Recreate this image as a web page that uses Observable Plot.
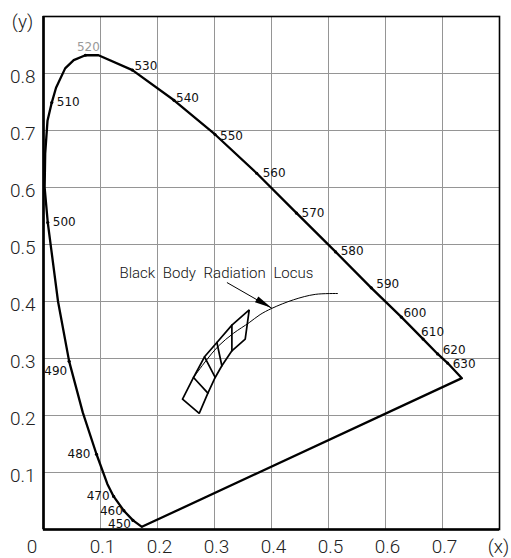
<!DOCTYPE html>
<html><head><meta charset="utf-8">
<script src="https://cdn.jsdelivr.net/npm/d3@7"></script>
<script src="https://cdn.jsdelivr.net/npm/@observablehq/plot@0.6"></script>
<style>html,body{margin:0;padding:0;background:#fff;} svg{display:block}</style>
</head><body><div id="chart"></div>
<script>
// ---- data ----
const xTicks = [0.1, 0.2, 0.3, 0.4, 0.5, 0.6, 0.7];
const yTicks = [0.1, 0.2, 0.3, 0.4, 0.5, 0.6, 0.7, 0.8];
const locusWl = [380, 450, 460, 470, 475, 480, 485, 490, 495, 500, 502, 504, 506, 510, 512, 515, 517, 520, 523, 530, 540, 550, 560, 570, 580, 590, 600, 610, 620, 630, 700];
const locusX = [0.1726, 0.157, 0.141, 0.123, 0.112, 0.093, 0.069, 0.045, 0.0255, 0.0075, 0.002, 0.003, 0.007, 0.0145, 0.022, 0.038, 0.053, 0.0735, 0.0965, 0.156, 0.229, 0.301, 0.374, 0.444, 0.5125, 0.575, 0.628, 0.666, 0.6915, 0.709, 0.734];
const locusY = [0.0047, 0.016, 0.033, 0.058, 0.080, 0.132, 0.205, 0.295, 0.400, 0.5385, 0.600, 0.660, 0.717, 0.749, 0.775, 0.809, 0.8235, 0.832, 0.832, 0.806, 0.753, 0.693, 0.625, 0.555, 0.487, 0.424, 0.3725, 0.334, 0.308, 0.292, 0.2655];
const labelWl = [450, 460, 470, 480, 490, 500, 510, 520, 530, 540, 550, 560, 570, 580, 590, 600, 610, 620, 630];
const planckX = [0.2632, 0.285, 0.307, 0.333, 0.361, 0.380, 0.4007, 0.4386, 0.4767, 0.516];
const planckY = [0.2667, 0.296, 0.322, 0.344, 0.363, 0.377, 0.3880, 0.403, 0.4125, 0.414];
const bandUpperX = [0.2439, 0.2632, 0.2825, 0.3042, 0.3305, 0.3609];
const bandUpperY = [0.2287, 0.2667, 0.3030, 0.3281, 0.3586, 0.3854];
const bandLowerX = [0.2732, 0.2884, 0.3012, 0.3129, 0.3305, 0.3539];
const bandLowerY = [0.2036, 0.2392, 0.2667, 0.2872, 0.3135, 0.3340];
const noteText = "Black Body Radiation Locus";
const noteX = 0.1333, noteY = 0.449;
const arrowFrom = [0.3218, 0.4333];
const arrowTo = [0.4007, 0.3880];

// ---- derived tables ----
const locus = locusWl.map((wl, i) => ({wl, x: locusX[i], y: locusY[i]}));
const locusClosed = [...locus, locus[0]];
const labelled = locus.filter(d => labelWl.includes(d.wl));
const planck = planckX.map((x, i) => ({x, y: planckY[i]}));
const upper = bandUpperX.map((x, i) => ({x, y: bandUpperY[i]}));
const lower = bandLowerX.map((x, i) => ({x, y: bandLowerY[i]}));
const bandLines = [];
[...upper, ...lower.slice().reverse(), upper[0]].forEach(p => bandLines.push({...p, k: "outline"}));
for (let i = 1; i < upper.length - 1; i++) {
  bandLines.push({...upper[i], k: "c" + i});
  bandLines.push({...lower[i], k: "c" + i});
}

// label placement (style, not data)
const labelStyle = {
  450: [-2, 3.5, "end"], 460: [-1, 0.5, "end"], 470: [-4, 0, "end"], 480: [-6, 0, "end"], 490: [-2, 10, "end"],
  500: [5, 0, "start"], 510: [5, 0, "start"], 520: [3, -8.5, "middle"], 530: [2, -4, "start"], 540: [2, -2, "start"],
  550: [5, 2, "start"], 560: [6, 0, "start"], 570: [5, 0, "start"], 580: [5, -1, "start"], 590: [5, -4, "start"],
  600: [2, -4, "start"], 610: [-2, -7, "start"], 620: [5, -4, "start"], 630: [5, 1, "start"]
};
const axisFont = "Roboto, 'Liberation Sans', sans-serif";
const smallFont = "'DejaVu Sans', sans-serif";

const chart = Plot.plot({
  width: 511, height: 558,
  marginLeft: 43, marginRight: 12, marginTop: 16, marginBottom: 29,
  x: {domain: [0, 0.8], axis: null},
  y: {domain: [0, 0.9], axis: null},
  style: {background: "#fff", fontFamily: axisFont},
  marks: [
    Plot.gridX(xTicks, {stroke: "#959595", strokeOpacity: 1, strokeWidth: 1}),
    Plot.gridY(yTicks, {stroke: "#959595", strokeOpacity: 1, strokeWidth: 1}),
    Plot.frame({stroke: "#000", strokeWidth: 1.6}),
    Plot.ruleX([0], {stroke: "#000", strokeWidth: 2.6}),
    Plot.ruleY([0], {stroke: "#000", strokeWidth: 2.6}),
    Plot.axisY(yTicks, {tickSize: 0, tickPadding: 8, fontSize: 19, fontWeight: 300, dy: 3, fill: "#222", label: null, tickFormat: d => d.toFixed(1)}),
    Plot.axisX(xTicks, {tickSize: 0, tickPadding: 10, fontSize: 19, fontWeight: 300, dx: 2, fill: "#222", label: null, tickFormat: d => d.toFixed(1)}),
    Plot.text([{x: 0, y: 0, t: "0"}], {x: "x", y: "y", text: "t", dx: -11.6, dy: 17, fontSize: 19, fontWeight: 300, fill: "#222"}),
    Plot.text([{x: 0.8, y: 0, t: "(x)"}], {x: "x", y: "y", text: "t", dx: -1, dy: 17, fontSize: 19, fontWeight: 300, fill: "#222"}),
    Plot.text([{x: 0, y: 0.9, t: "(y)"}], {x: "x", y: "y", text: "t", dx: -21, dy: 5, fontSize: 19, fontWeight: 300, fill: "#222"}),
    Plot.line(locusClosed, {x: "x", y: "y", stroke: "#000", strokeWidth: 2.3, strokeLinejoin: "round"}),
    Plot.dot(labelled, {x: "x", y: "y", r: 1.6, fill: "#000"}),
    ...labelled.map(d => {
      const [dx, dy, anchor] = labelStyle[d.wl];
      return Plot.text([d], {x: "x", y: "y", text: d => String(d.wl), dx, dy, textAnchor: anchor,
        fontSize: 12, fontFamily: smallFont, fill: d.wl === 520 ? "#999" : "#111"});
    }),
    Plot.line(planck, {x: "x", y: "y", stroke: "#000", strokeWidth: 1, curve: "catmull-rom"}),
    Plot.line(bandLines, {x: "x", y: "y", z: "k", stroke: "#000", strokeWidth: 1.7, strokeLinejoin: "miter"}),
    Plot.text([{x: noteX, y: noteY, t: noteText}], {x: "x", y: "y", text: "t", textAnchor: "start", fontSize: 15, fontWeight: 300, fill: "#111"}),
    Plot.link([{x1: arrowFrom[0], y1: arrowFrom[1], x2: arrowTo[0], y2: arrowTo[1]}], {x1: "x1", y1: "y1", x2: "x2", y2: "y2", stroke: "#000", strokeWidth: 1})
  ]
});
document.getElementById("chart").appendChild(chart);

// filled arrow head, positioned through the plot's own scales
const sx = chart.scale("x"), sy = chart.scale("y");
const tx = sx.apply(arrowTo[0]), ty = sy.apply(arrowTo[1]);
const fx = sx.apply(arrowFrom[0]), fy = sy.apply(arrowFrom[1]);
const len = Math.hypot(tx - fx, ty - fy), ux = (tx - fx) / len, uy = (ty - fy) / len;
const hl = 17, hw = 3.4;
const bx = tx - ux * hl, by = ty - uy * hl;
d3.select(chart).append("path")
  .attr("d", `M${tx},${ty}L${bx - uy * hw},${by + ux * hw}L${bx + uy * hw},${by - ux * hw}Z`)
  .attr("fill", "#000");
// word spacing on the note
d3.select(chart).selectAll("text").filter(function() { return this.textContent === noteText; }).style("word-spacing", "4px");
</script></body></html>
